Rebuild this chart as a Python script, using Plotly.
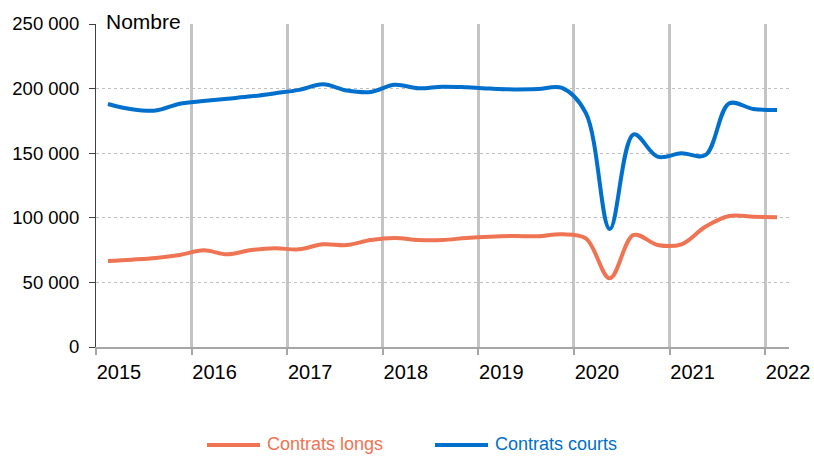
import plotly.graph_objects as go

quarters = [f"{y}T{q}" for y in range(2015, 2022) for q in (1, 2, 3, 4)] + ["2022T1"]
contrats_courts = [188100, 184000, 183000, 188300, 190400, 192200, 194000, 196400,
                   199000, 203300, 198500, 197400, 203000, 200200, 201500, 201000,
                   200000, 199400, 199700, 200500, 181000, 91300, 164600, 147300,
                   149900, 148500, 188600, 184200, 183400]
contrats_longs = [66600, 67600, 68900, 71200, 74800, 71700, 75100, 76400,
                  75600, 79500, 78900, 82800, 84400, 82800, 82800, 84400,
                  85400, 85900, 85700, 87200, 84000, 53200, 86700, 79000,
                  79500, 93100, 101400, 100900, 100400]
years = list(range(2015, 2023))
y_ticks = [0, 50000, 100000, 150000, 200000, 250000]

series_names = ["Contrats longs", "Contrats courts"]
colors = ["#EE7453", "#0070CC"]

xs = [int(q[:4]) + (int(q[-1]) - 0.5) / 4 for q in quarters]

fig = go.Figure()
for name, vals, col in [(series_names[0], contrats_longs, colors[0]),
                        (series_names[1], contrats_courts, colors[1])]:
    fig.add_trace(go.Scatter(x=xs, y=vals, mode="lines", name=name,
                             line=dict(color=col, width=4, shape="spline", smoothing=1.0),
                             showlegend=False, hoverinfo="skip"))

FONT = "Liberation Sans, Arial, sans-serif"
L, R, T, B = 96, 25, 24, 109
W, H = 814, 456
pw, ph = W - L - R, H - T - B

def px_x(p):
    return (p - L) / pw

def px_y(p):
    return (H - B - p) / ph

fig.update_layout(
    width=W, height=H,
    margin=dict(l=L, r=R, t=T, b=B, autoexpand=False),
    paper_bgcolor="white", plot_bgcolor="white",
    separators=", ",
    font=dict(family=FONT, color="black"),
    xaxis=dict(range=[2015, 2022.25], tickvals=years, ticktext=[str(y) for y in years],
               showgrid=True, gridcolor="#C4C4C4", gridwidth=3,
               showline=True, linecolor="#A6A6A6", linewidth=1.5,
               ticks="outside", ticklen=6, tickcolor="#A6A6A6", tickwidth=1.5,
               tickfont=dict(size=20, family=FONT, color="black"),
               ticklabelshift=23, zeroline=False),
    yaxis=dict(range=[0, 250000], tickvals=y_ticks, tickformat=",d",
               showgrid=True, gridcolor="#BFBFBF", gridwidth=1, griddash="dot",
               showline=True, linecolor="#404040", linewidth=1.2,
               ticks="outside", ticklen=6, tickcolor="#404040",
               tickfont=dict(size=18.5, family=FONT, color="black"),
               ticklabelstandoff=6, zeroline=False),
)

fig.add_annotation(text="Nombre", xref="paper", yref="paper", x=px_x(104), y=px_y(22),
                   xanchor="left", yanchor="middle", showarrow=False,
                   font=dict(size=21, family=FONT, color="black"))

legend_items = [(series_names[0], colors[0], 207, 260, 265),
                (series_names[1], colors[1], 435, 488, 493)]
for name, col, x0, x1, tx in legend_items:
    fig.add_shape(type="line", xref="paper", yref="paper",
                  x0=px_x(x0), x1=px_x(x1), y0=px_y(445), y1=px_y(445),
                  line=dict(color=col, width=4))
    fig.add_annotation(text=name, xref="paper", yref="paper", x=px_x(tx), y=px_y(444),
                       xanchor="left", yanchor="middle", showarrow=False,
                       font=dict(size=18, family=FONT, color=col))

fig.write_html("out.html", config={"displayModeBar": False},
               post_script="document.body.style.margin='0';document.body.style.padding='0';")
